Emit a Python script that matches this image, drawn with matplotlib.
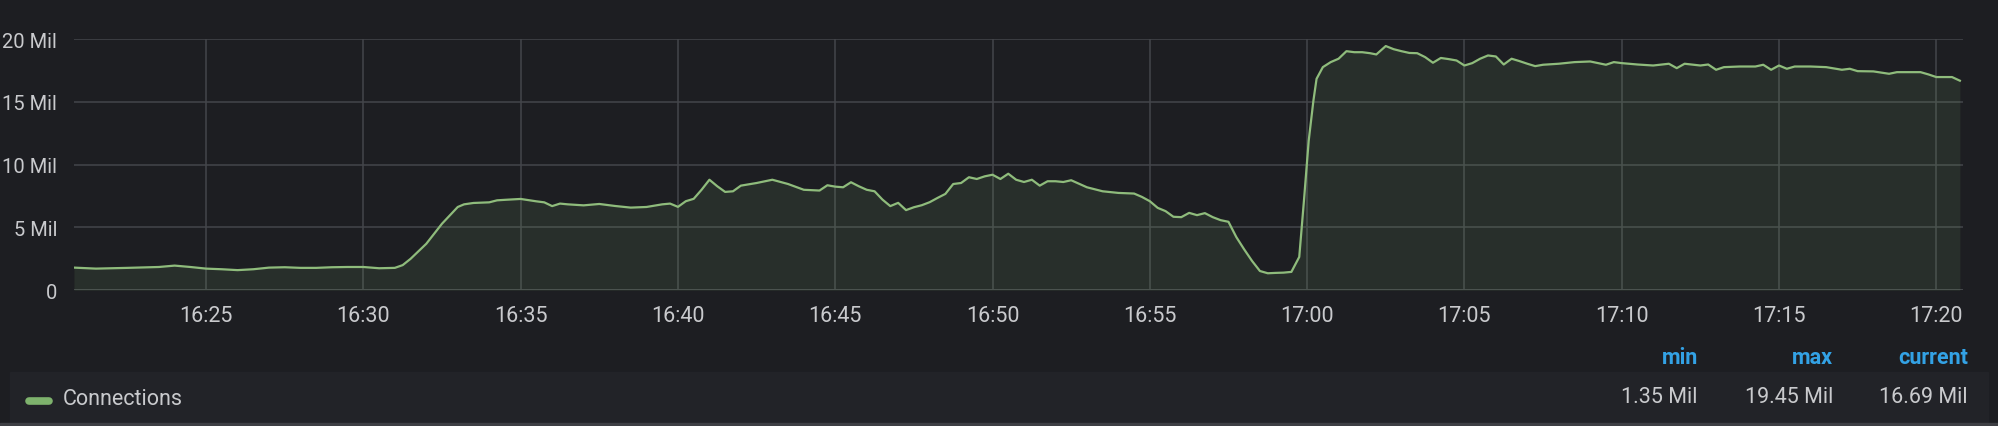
import matplotlib
matplotlib.use("Agg")
import matplotlib.pyplot as plt
from matplotlib.patches import Rectangle

# time = minutes after 16:00, value = connections in millions
minutes = [20.8, 21.5, 22.5, 23.5, 24.0, 24.5, 25.0, 25.5, 26.0, 26.5, 27.0, 27.5,
           28.0, 28.5, 29.0, 29.5, 30.0, 30.5, 31.0, 31.25, 31.5, 32.0, 32.5, 33.0,
           33.2, 33.5, 34.0, 34.25, 34.5, 35.0, 35.5, 35.75, 36.0, 36.25, 36.5, 37.0,
           37.5, 38.0, 38.5, 39.0, 39.5, 39.75, 40.0, 40.25, 40.5, 40.75, 41.0, 41.25,
           41.5, 41.75, 42.0, 42.5, 43.0, 43.5, 44.0, 44.5, 44.75, 45.0, 45.25, 45.5,
           45.75, 46.0, 46.25, 46.5, 46.75, 47.0, 47.25, 47.5, 47.75, 48.0, 48.25, 48.5,
           48.75, 49.0, 49.25, 49.5, 49.75, 50.0, 50.25, 50.5, 50.75, 51.0, 51.25, 51.5,
           51.75, 52.0, 52.25, 52.5, 53.0, 53.5, 54.0, 54.5, 54.75, 55.0, 55.25, 55.5,
           55.75, 56.0, 56.25, 56.5, 56.75, 57.0, 57.25, 57.5, 57.75, 58.0, 58.25, 58.5,
           58.75, 59.0, 59.25, 59.5, 59.75, 59.9, 60.05, 60.2, 60.3, 60.5, 60.75, 61.0,
           61.25, 61.5, 61.75, 62.0, 62.2, 62.5, 62.75, 63.0, 63.25, 63.5, 63.75, 64.0,
           64.25, 64.5, 64.75, 65.0, 65.25, 65.5, 65.75, 66.0, 66.25, 66.5, 66.75, 67.0,
           67.25, 67.5, 68.0, 68.5, 69.0, 69.5, 69.75, 70.0, 70.5, 71.0, 71.5, 71.75,
           72.0, 72.5, 72.75, 73.0, 73.25, 73.75, 74.25, 74.5, 74.75, 75.0, 75.25, 75.5,
           76.0, 76.5, 77.0, 77.25, 77.5, 78.0, 78.5, 78.75, 79.0, 79.5, 79.75, 80.0,
           80.5, 80.75]
connections = [1.80, 1.72, 1.78, 1.85, 1.96, 1.85, 1.72, 1.67, 1.60, 1.67, 1.80, 1.83,
               1.78, 1.78, 1.83, 1.85, 1.85, 1.75, 1.78, 2.0, 2.5, 3.7, 5.3, 6.63,
               6.84, 6.95, 7.0, 7.16, 7.2, 7.27, 7.08, 7.0, 6.7, 6.9, 6.84, 6.76,
               6.87, 6.71, 6.58, 6.63, 6.84, 6.9, 6.64, 7.09, 7.28, 8.0, 8.8, 8.28,
               7.83, 7.88, 8.33, 8.54, 8.8, 8.46, 8.0, 7.94, 8.36, 8.25, 8.2, 8.6,
               8.28, 8.0, 7.88, 7.22, 6.7, 6.96, 6.38, 6.61, 6.77, 7.01, 7.35, 7.67,
               8.46, 8.54, 9.0, 8.86, 9.07, 9.2, 8.86, 9.28, 8.8, 8.62, 8.8, 8.33,
               8.68, 8.68, 8.62, 8.76, 8.2, 7.88, 7.75, 7.7, 7.43, 7.09, 6.56, 6.3,
               5.85, 5.82, 6.16, 5.98, 6.14, 5.82, 5.58, 5.45, 4.23, 3.25, 2.33, 1.53,
               1.35, 1.38, 1.40, 1.46, 2.65, 7.16, 11.9, 15.1, 16.84, 17.77, 18.17, 18.44,
               19.04, 18.96, 18.96, 18.88, 18.78, 19.45, 19.2, 19.04, 18.9, 18.88, 18.57, 18.12,
               18.5, 18.41, 18.3, 17.9, 18.09, 18.44, 18.7, 18.62, 17.98, 18.44, 18.25, 18.04,
               17.85, 17.96, 18.04, 18.17, 18.22, 17.96, 18.17, 18.09, 17.98, 17.9, 18.04, 17.69,
               18.04, 17.9, 17.98, 17.56, 17.77, 17.82, 17.82, 17.96, 17.56, 17.9, 17.64, 17.82,
               17.82, 17.77, 17.56, 17.64, 17.45, 17.43, 17.24, 17.37, 17.37, 17.37, 17.19, 16.98,
               16.98, 16.69]

x_ticks = [25, 30, 35, 40, 45, 50, 55, 60, 65, 70, 75, 80]
x_labels = ["16:25", "16:30", "16:35", "16:40", "16:45", "16:50", "16:55",
            "17:00", "17:05", "17:10", "17:15", "17:20"]
y_ticks = [0, 5, 10, 15, 20]
y_labels = ["0", "5 Mil", "10 Mil", "15 Mil", "20 Mil"]

series_name = "Connections"
stat_names = ["min", "max", "current"]
stat_values = ["1.35 Mil", "19.45 Mil", "16.69 Mil"]

bg = "#1d1e22"
green = "#8fbc7c"
text_c = "#c9cacd"
blue = "#33a2e5"
fs = 15.5

plt.rcParams["font.family"] = ["Roboto", "DejaVu Sans"]

fig = plt.figure(figsize=(19.99, 4.27), dpi=100, facecolor=bg)
ax = fig.add_axes([0.037, 0.318, 0.945, 0.588])
ax.set_facecolor(bg)

ax.fill_between(minutes, connections, 0, color="#7eb26d", alpha=0.12, linewidth=0)
ax.plot(minutes, connections, color=green, linewidth=1.6)

ax.set_xlim(20.8, 80.85)
ax.set_ylim(0, 20)
ax.set_xticks(x_ticks)
ax.set_xticklabels(x_labels)
ax.set_yticks(y_ticks)
ax.set_yticklabels(y_labels)
ax.grid(True, color="#44464b", linewidth=1.1)
ax.set_axisbelow(True)
ax.axhline(0, color="#55575c", linewidth=1.8, zorder=0)
for s in ax.spines.values():
    s.set_visible(False)
ax.tick_params(length=0, colors=text_c)
ax.tick_params(axis="x", pad=11, labelsize=fs)
ax.tick_params(axis="y", pad=12, labelsize=14.5)

# legend band
fig.patches.append(Rectangle((10 / 1999, 4 / 427), 1978 / 1999, 50 / 427,
                             transform=fig.transFigure, color="#222328", zorder=0))
fig.patches.append(Rectangle((0, 0), 1, 3 / 427, transform=fig.transFigure,
                             color="#3e3f44", zorder=0))
fig.lines.append(plt.Line2D([29 / 1999, 49 / 1999], [1 - 402 / 427] * 2,
                            transform=fig.transFigure, color="#7eb26d",
                            linewidth=5.5, solid_capstyle="round"))
fig.text(63 / 1999, 1 - 400 / 427, series_name, color=text_c, fontsize=fs,
         va="center", ha="left")

right_edges = [1698, 1833, 1968]
for rx, name, val in zip(right_edges, stat_names, stat_values):
    fig.text(rx / 1999, 1 - 358 / 427, name, color=blue, fontsize=fs,
             fontweight="bold", va="center", ha="right")
    fig.text(rx / 1999, 1 - 398 / 427, val, color=text_c, fontsize=fs,
             va="center", ha="right")

fig.savefig("out.png", dpi=100, facecolor=bg)
